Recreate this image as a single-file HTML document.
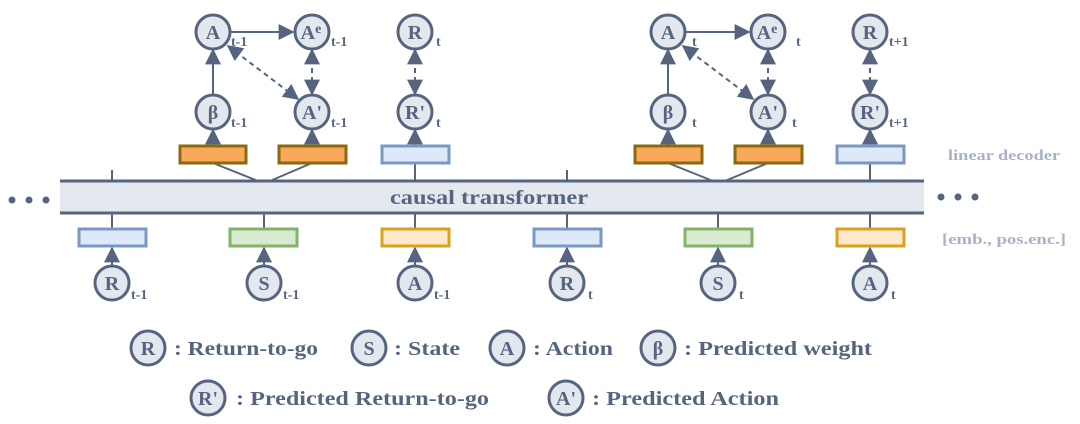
<!DOCTYPE html>
<html><head><meta charset="utf-8"><style>
html,body{margin:0;padding:0;background:#fff;}
svg{display:block}
text{font-family:"Liberation Serif",serif;font-weight:bold;fill:#56657f}
</style></head><body>
<svg width="1080" height="424" viewBox="0 0 1080 424" xmlns="http://www.w3.org/2000/svg">
<defs>
<marker id="ar" viewBox="0 0 10 10" refX="9" refY="5" markerWidth="8" markerHeight="8" orient="auto-start-reverse"><path d="M0,0L10,5L0,10z" fill="#56657f"/></marker>
<g id="c"><circle r="17" fill="#e3e8ef" stroke="#56657f" stroke-width="3"/></g>
</defs>
<g stroke="#56657f" stroke-width="2" fill="none">
<rect x="60" y="181" width="864" height="32" fill="#e4e9f0" stroke="none"/>
<line x1="60" y1="181" x2="924" y2="181" stroke-width="3"/>
<line x1="60" y1="213" x2="924" y2="213" stroke-width="3"/>
<line x1="112" y1="170" x2="112" y2="181"/>
<line x1="567" y1="170" x2="567" y2="181"/>
<line x1="415" y1="163" x2="415" y2="181"/>
<line x1="870" y1="163" x2="870" y2="181"/>
<line x1="213" y1="163" x2="258" y2="181"/>
<line x1="312" y1="163" x2="270" y2="181"/>
<line x1="668" y1="163" x2="713" y2="181"/>
<line x1="768" y1="163" x2="725" y2="181"/>
<line x1="112" y1="213" x2="112" y2="229"/>
<line x1="264" y1="213" x2="264" y2="229"/>
<line x1="415" y1="213" x2="415" y2="229"/>
<line x1="567" y1="213" x2="567" y2="229"/>
<line x1="718" y1="213" x2="718" y2="229"/>
<line x1="870" y1="213" x2="870" y2="229"/>
<g marker-end="url(#ar)">
<line x1="112" y1="266" x2="112" y2="248"/>
<line x1="264" y1="266" x2="264" y2="248"/>
<line x1="415" y1="266" x2="415" y2="248"/>
<line x1="567" y1="266" x2="567" y2="248"/>
<line x1="718" y1="266" x2="718" y2="248"/>
<line x1="870" y1="266" x2="870" y2="248"/>
<line x1="213" y1="145" x2="213" y2="130"/>
<line x1="312" y1="145" x2="312" y2="130"/>
<line x1="415" y1="145" x2="415" y2="130"/>
<line x1="668" y1="145" x2="668" y2="130"/>
<line x1="768" y1="145" x2="768" y2="130"/>
<line x1="870" y1="145" x2="870" y2="130"/>
<line x1="213" y1="95" x2="213" y2="50"/>
<line x1="668" y1="95" x2="668" y2="50"/>
<line x1="231" y1="32" x2="293" y2="32"/>
<line x1="686" y1="32" x2="749" y2="32"/>
</g>
<g stroke-dasharray="5,4" marker-end="url(#ar)" marker-start="url(#ar)">
<line x1="228" y1="46" x2="298" y2="99"/>
<line x1="312" y1="50" x2="312" y2="94"/>
<line x1="415" y1="50" x2="415" y2="94"/>
<line x1="683" y1="46" x2="753" y2="99"/>
<line x1="768" y1="50" x2="768" y2="94"/>
<line x1="870" y1="50" x2="870" y2="94"/>
</g>
<rect x="180" y="146" width="66" height="17" fill="#f9a95a" stroke="#8a6a10" stroke-width="3"/>
<rect x="279" y="146" width="67" height="17" fill="#f9a95a" stroke="#8a6a10" stroke-width="3"/>
<rect x="382" y="146" width="67" height="17" fill="#dde8f8" stroke="#7a98c4" stroke-width="3"/>
<rect x="635" y="146" width="67" height="17" fill="#f9a95a" stroke="#8a6a10" stroke-width="3"/>
<rect x="735" y="146" width="67" height="17" fill="#f9a95a" stroke="#8a6a10" stroke-width="3"/>
<rect x="837" y="146" width="67" height="17" fill="#dde8f8" stroke="#7a98c4" stroke-width="3"/>
<rect x="79" y="229" width="67" height="17" fill="#dde8f8" stroke="#7a98c4" stroke-width="3"/>
<rect x="230" y="229" width="67" height="17" fill="#d9ead3" stroke="#82b366" stroke-width="3"/>
<rect x="382" y="229" width="67" height="17" fill="#ffe8cc" stroke="#d9a21b" stroke-width="3"/>
<rect x="534" y="229" width="67" height="17" fill="#dde8f8" stroke="#7a98c4" stroke-width="3"/>
<rect x="685" y="229" width="67" height="17" fill="#d9ead3" stroke="#82b366" stroke-width="3"/>
<rect x="837" y="229" width="67" height="17" fill="#ffe8cc" stroke="#d9a21b" stroke-width="3"/>
</g>
<text x="390" y="204" font-size="20" textLength="198" lengthAdjust="spacingAndGlyphs">causal transformer</text>
<g fill="#56657f"><circle cx="12" cy="200" r="3.5"/><circle cx="29" cy="200" r="3.5"/><circle cx="46" cy="200" r="3.5"/>
<circle cx="941" cy="197" r="3.5"/><circle cx="958" cy="197" r="3.5"/><circle cx="975" cy="197" r="3.5"/></g>
<text x="948" y="160" font-size="15" style="fill:#a9b3c6" textLength="112" lengthAdjust="spacingAndGlyphs">linear decoder</text>
<text x="942" y="244" font-size="15" style="fill:#a9b3c6" textLength="124" lengthAdjust="spacingAndGlyphs">[emb., pos.enc.]</text>
<g font-size="20" text-anchor="middle">
<use href="#c" x="213" y="32"/><text x="213" y="39">A</text>
<use href="#c" x="312" y="32"/><text x="311" y="39">A<tspan font-size="14" dy="-6">e</tspan></text>
<use href="#c" x="415" y="32"/><text x="415" y="39">R</text>
<use href="#c" x="213" y="112"/><text x="213" y="119">β</text>
<use href="#c" x="312" y="112"/><text x="312" y="119">A'</text>
<use href="#c" x="415" y="112"/><text x="415" y="119">R'</text>
<use href="#c" x="668" y="32"/><text x="668" y="39">A</text>
<use href="#c" x="768" y="32"/><text x="767" y="39">A<tspan font-size="14" dy="-6">e</tspan></text>
<use href="#c" x="870" y="32"/><text x="870" y="39">R</text>
<use href="#c" x="668" y="112"/><text x="668" y="119">β</text>
<use href="#c" x="768" y="112"/><text x="768" y="119">A'</text>
<use href="#c" x="870" y="112"/><text x="870" y="119">R'</text>
<use href="#c" x="112" y="283"/><text x="112" y="290">R</text>
<use href="#c" x="264" y="283"/><text x="264" y="290">S</text>
<use href="#c" x="415" y="283"/><text x="415" y="290">A</text>
<use href="#c" x="567" y="283"/><text x="567" y="290">R</text>
<use href="#c" x="718" y="283"/><text x="718" y="290">S</text>
<use href="#c" x="870" y="283"/><text x="870" y="290">A</text>
</g>
<g font-size="14">
<text x="231" y="46">t-1</text><text x="331" y="46">t-1</text><text x="436" y="46">t</text>
<text x="231" y="127">t-1</text><text x="331" y="127">t-1</text><text x="436" y="127">t</text>
<text x="692" y="46">t</text><text x="796" y="46">t</text><text x="889" y="46">t+1</text>
<text x="692" y="127">t</text><text x="792" y="127">t</text><text x="889" y="127">t+1</text>
<text x="131" y="299">t-1</text><text x="283" y="299">t-1</text><text x="434" y="299">t-1</text>
<text x="588" y="299">t</text><text x="739" y="299">t</text><text x="891" y="299">t</text>
</g>
<g font-size="20" text-anchor="middle">
<use href="#c" x="148" y="348"/><text x="148" y="355">R</text>
<use href="#c" x="369" y="348"/><text x="369" y="355">S</text>
<use href="#c" x="507" y="348"/><text x="507" y="355">A</text>
<use href="#c" x="658" y="348"/><text x="658" y="355">β</text>
<use href="#c" x="208" y="398"/><text x="208" y="405">R'</text>
<use href="#c" x="566" y="398"/><text x="566" y="405">A'</text>
</g>
<g font-size="20" lengthAdjust="spacingAndGlyphs">
<text x="174" y="355" textLength="144" lengthAdjust="spacingAndGlyphs">: Return-to-go</text>
<text x="394" y="355" textLength="66" lengthAdjust="spacingAndGlyphs">: State</text>
<text x="533" y="355" textLength="80" lengthAdjust="spacingAndGlyphs">: Action</text>
<text x="684" y="355" textLength="188" lengthAdjust="spacingAndGlyphs">: Predicted weight</text>
<text x="236" y="405" textLength="253" lengthAdjust="spacingAndGlyphs">: Predicted Return-to-go</text>
<text x="592" y="405" textLength="187" lengthAdjust="spacingAndGlyphs">: Predicted Action</text>
</g>
</svg>
</body></html>
